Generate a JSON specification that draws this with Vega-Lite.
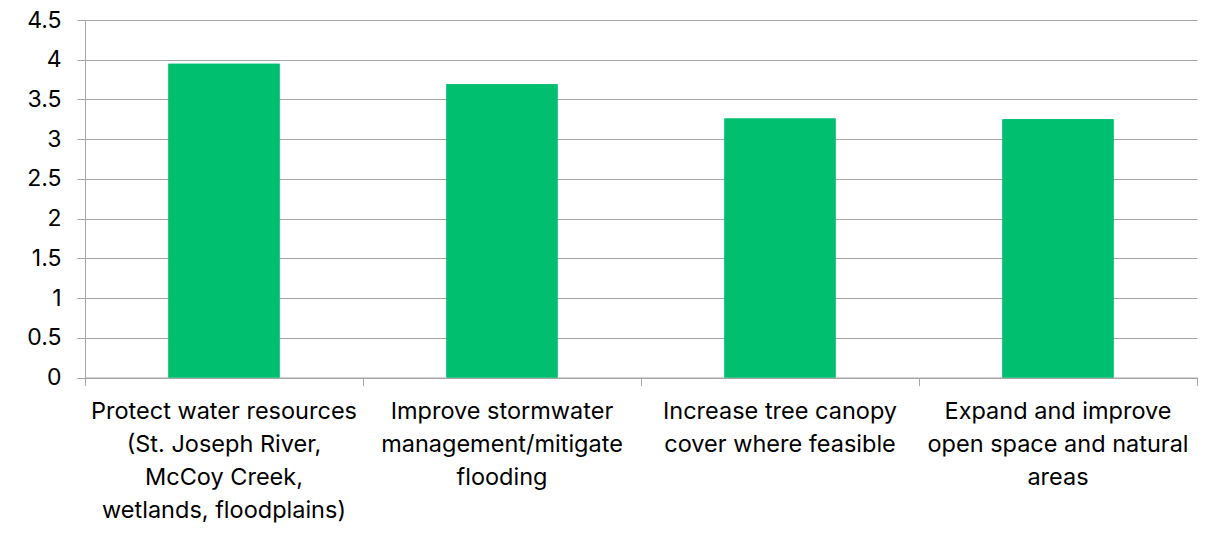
{
  "$schema": "https://vega.github.io/schema/vega-lite/v6.json",
  "width": 1112,
  "height": 357.5,
  "autosize": {"type": "none"},
  "padding": {"left": 85, "top": 20, "right": 24, "bottom": 160},
  "background": "white",
  "data": {"values": [
    {"category": "Protect water resources (St. Joseph River, McCoy Creek, wetlands, floodplains)", "value": 3.95},
    {"category": "Improve stormwater management/mitigate flooding", "value": 3.69},
    {"category": "Increase tree canopy cover where feasible", "value": 3.26},
    {"category": "Expand and improve open space and natural areas", "value": 3.25}
  ]},
  "encoding": {
    "y": {
      "field": "value", "type": "quantitative",
      "scale": {"domain": [0, 4.5]},
      "axis": {
        "title": null, "values": [0, 0.5, 1, 1.5, 2, 2.5, 3, 3.5, 4, 4.5], "format": "~g",
        "labelFont": "Inter", "labelFontSize": 23, "labelColor": "#000000",
        "labelPadding": 16, "tickSize": 8, "tickColor": "#a6a6a6",
        "domainColor": "#a6a6a6", "gridColor": "#a6a6a6", "gridWidth": 1.2
      }
    }
  },
  "layer": [
    {
      "mark": {"type": "bar", "color": "#00BF6F", "width": {"band": 0.4}},
      "encoding": {
        "x": {
          "field": "category", "type": "nominal", "sort": null,
          "scale": {"paddingInner": 0, "paddingOuter": 0},
          "axis": {
            "orient": "bottom", "title": null, "labelAngle": 0, "ticks": false,
            "labelFont": "Inter", "labelFontSize": 23.5, "labelColor": "#000000",
            "labelLineHeight": 33, "labelPadding": 22, "labelBaseline": "top",
            "domainColor": "#a6a6a6", "labelLimit": 0,
            "labelExpr": "datum.value == 'Protect water resources (St. Joseph River, McCoy Creek, wetlands, floodplains)' ? ['Protect water resources', '(St. Joseph River,', 'McCoy Creek,', 'wetlands, floodplains)'] : datum.value == 'Improve stormwater management/mitigate flooding' ? ['Improve stormwater', 'management/mitigate', 'flooding'] : datum.value == 'Increase tree canopy cover where feasible' ? ['Increase tree canopy', 'cover where feasible'] : ['Expand and improve', 'open space and natural', 'areas']"
          }
        }
      }
    },
    {
      "mark": {"type": "bar", "color": "#00BF6F", "width": {"band": 0.4}},
      "encoding": {
        "x": {
          "field": "category", "type": "nominal", "sort": null,
          "scale": {"paddingInner": 0, "paddingOuter": 0},
          "axis": {
            "orient": "bottom", "title": null, "labels": false, "domain": false,
            "tickBand": "extent", "tickSize": 8, "tickColor": "#a6a6a6"
          }
        }
      }
    }
  ],
  "resolve": {"axis": {"x": "independent"}},
  "config": {"view": {"stroke": null}}
}
